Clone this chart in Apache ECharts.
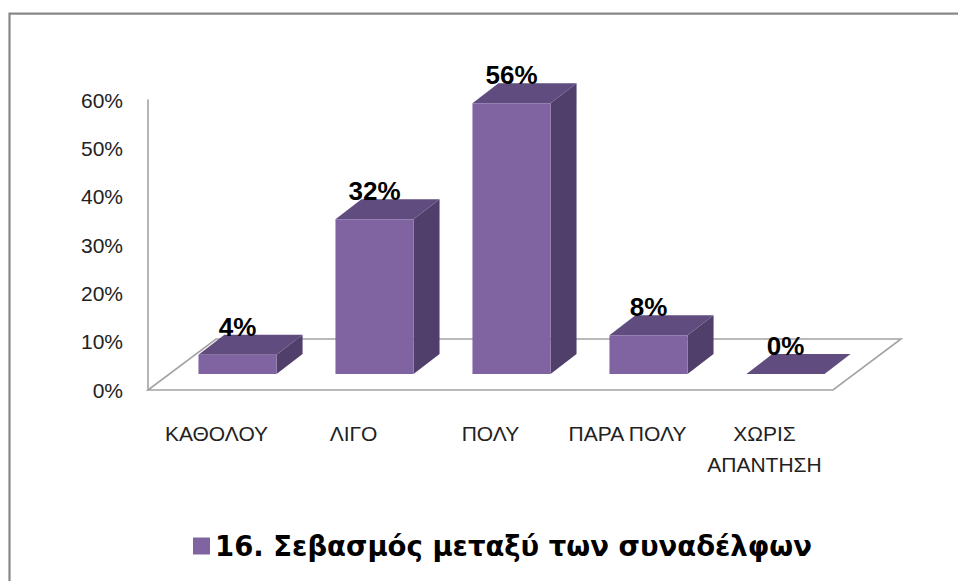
<!DOCTYPE html>
<html>
<head>
<meta charset="utf-8">
<script src="https://cdn.jsdelivr.net/npm/echarts@6/dist/echarts.min.js"></script>
<style>
  html, body { margin: 0; padding: 0; background: #ffffff; }
  #chart { width: 958px; height: 581px; }
</style>
</head>
<body>
<div id="chart"></div>
<script>
// ---- data ----
const categories = ['ΚΑΘΟΛΟΥ', 'ΛΙΓΟ', 'ΠΟΛΥ', 'ΠΑΡΑ ΠΟΛΥ', 'ΧΩΡΙΣ\nΑΠΑΝΤΗΣΗ'];
const values = [4, 32, 56, 8, 0];
const seriesName = '16. Σεβασμός μεταξύ των συναδέλφων';
const yTicks = { min: 0, max: 60, interval: 10 };

// ---- style / 3D projection constants ----
const COLOR_FRONT = '#8064a2';
const COLOR_TOP = '#604c7e';
const COLOR_SIDE = '#503f6a';
const FLOOR_DEPTH = { x: 68, y: -51 };
const BAR_SHIFT = { x: 21, y: -16 };
const BAR_DEPTH = { x: 26, y: -20 };
const BAR_WIDTH_RATIO = 0.57;
const LINE_COLOR = '#a3a3a3';

const chart = echarts.init(document.getElementById('chart'), null, { renderer: 'svg' });

function renderFloor(params, api) {
  const cs = params.coordSys;
  const x0 = cs.x, x1 = cs.x + cs.width, yb = cs.y + cs.height;
  return {
    type: 'polygon',
    silent: true,
    shape: {
      points: [
        [x0, yb], [x1, yb],
        [x1 + FLOOR_DEPTH.x, yb + FLOOR_DEPTH.y],
        [x0 + FLOOR_DEPTH.x, yb + FLOOR_DEPTH.y]
      ]
    },
    style: { fill: 'none', stroke: LINE_COLOR, lineWidth: 1.6 }
  };
}

function renderBar(params, api) {
  const i = api.value(0);
  const v = api.value(1);
  const base = api.coord([i, 0]);
  const top = api.coord([i, v]);
  const band = api.size([1, 0])[0];
  const w = band * BAR_WIDTH_RATIO;
  const cx = base[0] + BAR_SHIFT.x;
  const xl = cx - w / 2, xr = cx + w / 2;
  const yb = base[1] + BAR_SHIFT.y;
  const yt = top[1] + BAR_SHIFT.y;
  const dx = BAR_DEPTH.x, dy = BAR_DEPTH.y;
  const children = [];
  children.push({
    type: 'polygon',
    shape: { points: [[xr, yt], [xr + dx, yt + dy], [xr + dx, yb + dy], [xr, yb]] },
    style: { fill: COLOR_SIDE, stroke: null }
  });
  children.push({
    type: 'polygon',
    shape: { points: [[xl, yt], [xl + dx, yt + dy], [xr + dx, yt + dy], [xr, yt]] },
    style: { fill: COLOR_TOP, stroke: null }
  });
  if (yb - yt > 0.5) {
    children.push({
      type: 'rect',
      shape: { x: xl, y: yt, width: w, height: yb - yt },
      style: { fill: COLOR_FRONT, stroke: null }
    });
  }
  children.push({
    type: 'text',
    style: {
      text: v + '%',
      x: cx,
      y: yt + dy + 5,
      align: 'center',
      verticalAlign: 'bottom',
      fill: '#000000',
      font: 'bold 26px "Liberation Sans", Arial, sans-serif'
    }
  });
  return { type: 'group', children: children };
}

const option = {
  backgroundColor: '#ffffff',
  animation: false,
  graphic: [
    {
      type: 'rect',
      shape: { x: 9.5, y: 13.7, width: 1000, height: 700 },
      style: { fill: 'none', stroke: '#888888', lineWidth: 2.2 },
      z: 0, silent: true
    }
  ],
  grid: { left: 148, top: 100, width: 685, height: 290 },
  legend: {
    data: [seriesName],
    left: 188,
    top: 527,
    icon: 'rect',
    itemWidth: 17,
    itemHeight: 17,
    itemGap: 10,
    textStyle: {
      fontSize: 27.5,
      fontWeight: 'bold',
      color: '#000000',
      fontFamily: '"DejaVu Sans", sans-serif'
    }
  },
  xAxis: {
    type: 'category',
    data: categories,
    axisLine: { show: false },
    axisTick: { show: false },
    axisLabel: {
      margin: 28,
      fontSize: 21,
      lineHeight: 31,
      color: '#222222',
      fontFamily: '"Liberation Sans", Arial, sans-serif',
      interval: 0
    }
  },
  yAxis: {
    type: 'value',
    min: yTicks.min,
    max: yTicks.max,
    interval: yTicks.interval,
    axisLine: { show: true, lineStyle: { color: LINE_COLOR, width: 1.6 } },
    axisTick: { show: false },
    splitLine: { show: false },
    axisLabel: {
      formatter: '{value}%',
      margin: 25,
      fontSize: 21,
      color: '#222222',
      fontFamily: '"Liberation Sans", Arial, sans-serif'
    }
  },
  series: [
    {
      type: 'custom',
      name: 'floor',
      silent: true,
      z: 1,
      renderItem: renderFloor,
      data: [[0, 0]]
    },
    {
      type: 'custom',
      name: seriesName,
      z: 2,
      itemStyle: { color: COLOR_FRONT },
      renderItem: renderBar,
      encode: { x: 0, y: 1 },
      data: values.map((v, i) => [i, v])
    }
  ]
};

chart.setOption(option);
</script>
</body>
</html>
